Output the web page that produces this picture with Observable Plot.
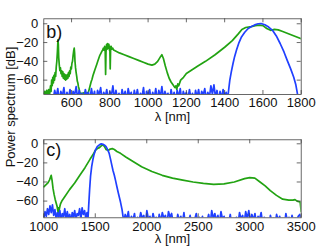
<!DOCTYPE html>
<html><head><meta charset="utf-8">
<script src="https://cdn.jsdelivr.net/npm/d3@7"></script>
<script src="https://cdn.jsdelivr.net/npm/@observablehq/plot@0.6"></script>
<style>
body{margin:0;background:#fff;}
#wrap{position:relative;width:332px;height:250px;font-family:"Liberation Sans",Arial,sans-serif;background:#fff;}
#wrap svg{position:absolute;left:0;}
#ylab{position:absolute;left:10px;top:107px;transform:translate(-50%,-50%) rotate(-90deg);white-space:nowrap;font-size:13px;line-height:1;color:#111;}
</style></head><body>
<div id="wrap"><div id="ylab">Power spectrum [dB]</div></div>
<script>
// ---------- Panel b ----------
const greenB_x = [455,460,465,470,475,480,485,490,493,496,499,502,505,508,511,514,517,520,523,526,529,531,533,536,539,542,545,548,551,554,557,560,563,566,569,572,575,578,581,584,587,590,593,596,599,602,605,608,611,614,616,618,621,624,627,630,633,636,639,642,645,650,660,670,680,688,692,697,702,707,712,717,722,727,732,737,742,747,752,757,762,766,770,773,776,778,780,783,786,789,792,795,798,800,802,804,807,810,815,820,830,850,875,900,925,950,975,1000,1020,1035,1050,1065,1072,1080,1090,1100,1110,1120,1130,1140,1145,1150,1155,1160,1170,1185,1200,1230,1260,1300,1350,1400,1440,1470,1490,1510,1540,1560,1580,1600,1620,1640,1660,1680,1700,1750,1800];
const greenB_y = [-77,-72,-78,-71,-77,-70,-76,-66,-72,-60,-66,-57,-63,-55,-60,-52,-56,-46,-40,-30,-17,-22,-36,-44,-50,-47,-53,-50,-56,-51,-58,-53,-59,-54,-60,-55,-59,-54,-58,-52,-56,-50,-53,-46,-48,-42,-40,-34,-29,-26,-31,-40,-47,-52,-56,-61,-63,-67,-69,-72,-74,-74,-74,-73,-74,-73,-70,-66,-62,-59,-55,-52,-49,-46,-43,-40,-37,-34,-32,-30,-28,-26,-28,-24,-30,-54,-30,-22,-27,-21,-26,-22,-28,-24,-48,-28,-24,-27,-26,-28,-29,-31,-33,-35,-37,-39,-41,-43,-44,-43,-40,-35,-33,-37,-45,-52,-58,-62,-65,-68,-66,-70,-64,-66,-60,-57,-53,-49,-45,-40,-33,-25,-18,-11,-6,-4,-3,-2,-1.5,-2,-5,-7,-6,-6.5,-8,-12,-16];

const noiseB_start = 504, noiseB_step = 8;
const noiseB = [-80,-71,-78,-69,-82,-72,-77,-68,-81,-73,
  -79,-70,-83,-72,-76,-67,-80,-71,-78,-74,
  -82,-70,-77,-73,-80,-69,-79,-72,-84,-71,
  -76,-68,-81,-73,-78,-70,-82,-72,-77,-66,
  -80,-71,-79,-74,-83,-70,-78,-72,-81,-69,
  -77,-73,-82,-71,-79,-70,-80,-74,-78,-68,
  -83,-72,-76,-70,-81,-73,-79,-69,-82,-71,
  -78,-67,-80,-72,-77,-74,-84,-70,-79,-73,
  -81,-71,-78,-69,-82,-72,-77,-73,-80,-70,
  -79,-74,-83,-71,-78,-70,-81,-72,-76,-69,
  -80,-73,-79,-66,-75,-65,-78,-71,-82,-72,
  -79,-70,-77,-73,-80];
const peakB_x = [1420,1427,1435,1444,1452,1462,1475,1488,1505,1523,1540,1557,1575,1590,1610,1630,1650,1670,1690,1710,1727,1745,1761,1772,1780,1785];
const peakB_y = [-72,-60,-51,-42,-35,-28,-20,-14,-9,-5,-3,-1.2,0,0.3,-1,-3.5,-7,-13,-21,-30,-39,-48,-57,-65,-74,-80];

const xTicksB = [600,800,1000,1200,1400,1600,1800];
const yTicks = [0,-20,-40,-60];

// ---------- Panel c ----------
const greenC_x = [1000,1020,1040,1055,1065,1072,1080,1090,1100,1110,1120,1130,1138,1142,1146,1150,1155,1162,1175,1200,1250,1300,1350,1400,1450,1480,1500,1520,1540,1560,1575,1590,1605,1625,1645,1665,1685,1710,1745,1800,1875,1950,2050,2150,2250,2350,2450,2550,2650,2750,2850,2950,3000,3050,3100,3150,3200,3260,3320,3380,3420,3440,3460,3490,3500];
const greenC_y = [-45,-43,-41,-38,-35,-33,-38,-47,-53,-58,-62,-66,-71,-67,-72,-69,-66,-63,-60,-56,-48,-41,-33,-25,-16,-11,-7,-5,-4,-2,-1,-3,-6,-7,-5.5,-5,-6,-8,-10,-14,-19,-24,-29,-33,-36,-38,-40,-41.5,-42.5,-42,-40,-36.5,-35.5,-36,-40,-44,-49,-54,-58,-59,-59,-58.5,-60,-61,-71];

const noiseC1_start = 1000, noiseC1_step = 12;
const noiseC1 = [-78,-71,-76,-68,-74,-65,-72,-64,-75,-69,
  -79,-72,-77,-70,-81,-73,-76,-68,-80,-71,
  -78,-74,-82,-72,-77,-70,-80,-73,-75,-68,
  -79,-67,-74,-70,-78,-72];
const peakC_x = [1430,1436,1445,1454,1465,1476,1486,1500,1519,1540,1558,1575,1590,1605,1620,1635,1648,1660,1672,1685,1696,1710,1725,1745,1760,1772];
const peakC_y = [-77,-65,-48,-34,-24,-17,-12,-7,-3,-1,0,-0.5,-1.5,-3,-6,-10,-16,-22,-28,-33,-38,-45,-52,-61,-69,-78];
const noiseC2_start = 1776, noiseC2_step = 15;
const noiseC2 = [-82,-74,-79,-71,-84,-76,-80,-73,-86,-77,
  -81,-72,-78,-75,-85,-70,-79,-76,-83,-73,
  -80,-77,-86,-74,-81,-72,-78,-75,-84,-71,
  -77,-73,-82,-79,-85,-74,-80,-76,-83,-72,
  -86,-78,-81,-75,-84,-80,-79,-73,-85,-77,
  -82,-76,-87,-79,-81,-74,-84,-70,-78,-73,
  -80,-75,-83,-71,-79,-76,-85,-78,-82,-74,
  -86,-80,-81,-77,-84,-72,-79,-75,-83,-71,
  -78,-70,-82,-74,-80,-73,-85,-76,-79,-72,
  -84,-77,-81,-79,-86,-75,-82,-78,-85,-74,
  -80,-76,-83,-79,-87,-73,-81,-77,-84,-75,
  -82,-78,-80,-76,-74,-79];
const xTicksC = [1000,1500,2000,2500,3000,3500];

// ---------- build tables ----------
const zip = (xs, ys) => xs.map((x, i) => ({x, y: ys[i]}));
const fromNoise = (start, step, ys) => ys.map((y, i) => ({x: start + i * step, y}));

const greenB = zip(greenB_x, greenB_y);
const blueB = [...fromNoise(noiseB_start, noiseB_step, noiseB), ...zip(peakB_x, peakB_y)];
const greenC = zip(greenC_x, greenC_y);
const blueC = [...fromNoise(noiseC1_start, noiseC1_step, noiseC1), ...zip(peakC_x, peakC_y), ...fromNoise(noiseC2_start, noiseC2_step, noiseC2)];

const GREEN = "#22a312", BLUE = "#2040ff", AX = "#444";
const fmt = d => d < 0 ? "\u2212" + (-d) : String(d);

function panel({green, blue, xDomain, yDomain, xTicks, mt, mb, label, labelDy, tickPad, xlabDy}) {
  const W = 332, H = 125, ml = 43.3, mr = 31.3;
  const iw = W - ml - mr, ih = H - mt - mb, tl = 4;
  return Plot.plot({
    width: W, height: H,
    marginLeft: ml, marginRight: mr, marginTop: mt, marginBottom: mb,
    x: {domain: xDomain},
    y: {domain: yDomain},
    style: {fontFamily: "'Liberation Sans', Arial, sans-serif", fontSize: "13px", color: "#111", background: "transparent", overflow: "visible"},
    marks: [
      Plot.line(green, {x: "x", y: "y", stroke: GREEN, strokeWidth: 1.7, clip: true}),
      Plot.line(blue, {x: "x", y: "y", stroke: BLUE, strokeWidth: 1.7, clip: true}),
      Plot.frame({stroke: AX, strokeWidth: 0.8}),
      Plot.ruleX(xTicks, {x: d => d, insetTop: ih - tl, stroke: AX, strokeWidth: 0.8}),
      Plot.ruleX(xTicks, {x: d => d, insetBottom: ih - tl, stroke: AX, strokeWidth: 0.8}),
      Plot.ruleY(yTicks, {y: d => d, insetRight: iw - tl, stroke: AX, strokeWidth: 0.8}),
      Plot.ruleY(yTicks, {y: d => d, insetLeft: iw - tl, stroke: AX, strokeWidth: 0.8}),
      Plot.axisX(xTicks, {tickSize: 0, tickPadding: tickPad, tickFormat: fmt, label: null}),
      Plot.axisY(yTicks, {tickSize: 0, tickPadding: 5.5, tickFormat: fmt, label: null}),
      Plot.text([label], {text: d => d, frameAnchor: "top-left", dx: 2.5, dy: labelDy, lineAnchor: "top", textAnchor: "start", fontSize: 18, fill: "#111"}),
      Plot.text(["\u03bb [nm]"], {text: d => d, frameAnchor: "bottom", dy: xlabDy, lineAnchor: "middle", fontSize: 13, fill: "#111"})
    ]
  });
}

const svgB = panel({green: greenB, blue: blueB, xDomain: [455, 1800], yDomain: [-75.3, 5.3], xTicks: xTicksB,
  mt: 18.3, mb: 31, label: "b)", labelDy: 6.5, tickPad: 3.5, xlabDy: 22});
const svgC = panel({green: greenC, blue: blueC, xDomain: [1000, 3500], yDomain: [-77.5, 4.2], xTicks: xTicksC,
  mt: 14.3, mb: 32.7, label: "c)", labelDy: 3.5, tickPad: 3.5, xlabDy: 20.8});
svgB.style.top = "0px";
svgC.style.top = "125px";
const wrap = document.getElementById("wrap");
wrap.appendChild(svgB);
wrap.appendChild(svgC);
</script>
</body></html>
